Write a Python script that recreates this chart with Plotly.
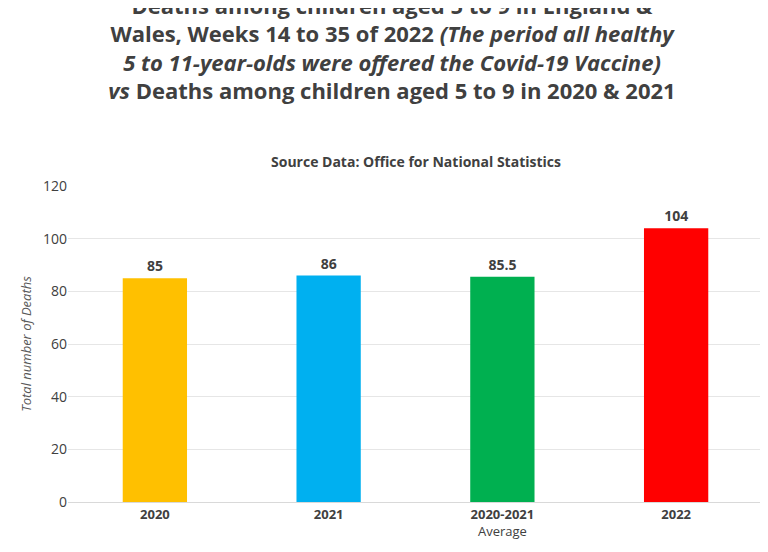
import plotly.graph_objects as go

categories = ["2020", "2021", "2020-2021", "2022"]
tick_labels = ["<b>2020</b>", "<b>2021</b>", "<b>2020-2021</b><br>Average", "<b>2022</b>"]
deaths = [85, 86, 85.5, 104]
colors = ["#FFC000", "#00B0F0", "#00B050", "#FF0000"]
y_ticks = [0, 20, 40, 60, 80, 100, 120]

fig = go.Figure(go.Bar(
    x=categories, y=deaths, marker=dict(color=colors, line=dict(width=0)),
    text=[f"<b>{v:g}</b>" for v in deaths], textposition="outside",
    textfont=dict(size=14, color="#404040"), cliponaxis=False, width=0.37))

title = ("<b>Deaths among children aged 5 to 9 in England &amp;<br>"
         "Wales, Weeks 14 to 35 of 2022 <i>(The period all healthy<br>"
         "5 to 11-year-olds were offered the Covid-19 Vaccine)</i><br>"
         "<i>vs</i> Deaths among children aged 5 to 9 in 2020 &amp; 2021</b>")
fig.update_layout(title=dict(text=title, x=0.5, xanchor="center", y=0.99, yanchor="top",
                             font=dict(size=22, color="#404040", family="Open Sans")))
# paper y for a pixel row: plot spans rows 178..494
fig.add_annotation(text="<b>Source Data: Office for National Statistics</b>",
                   x=0.5, y=(494 - 153) / 316, xref="paper", yref="paper",
                   yanchor="middle", showarrow=False,
                   font=dict(size=14, color="#404040"))
fig.update_layout(
    width=768, height=552, plot_bgcolor="white", paper_bgcolor="white",
    margin=dict(l=60, r=13, t=178, b=58), showlegend=False,
    font=dict(family="Open Sans", color="#595959"),
    xaxis=dict(tickmode="array", tickvals=categories, ticktext=tick_labels,
               tickfont=dict(size=13, color="#404040"), showline=True,
               linecolor="#d9d9d9"),
    yaxis=dict(range=[0, 120], tickvals=y_ticks, gridcolor="#e6e6e6",
               tickfont=dict(size=14, color="#404040"), zeroline=False,
               title=dict(text="<i>Total number of Deaths</i>",
                          font=dict(size=13, color="#595959"), standoff=8)))
fig.write_html("out.html")
